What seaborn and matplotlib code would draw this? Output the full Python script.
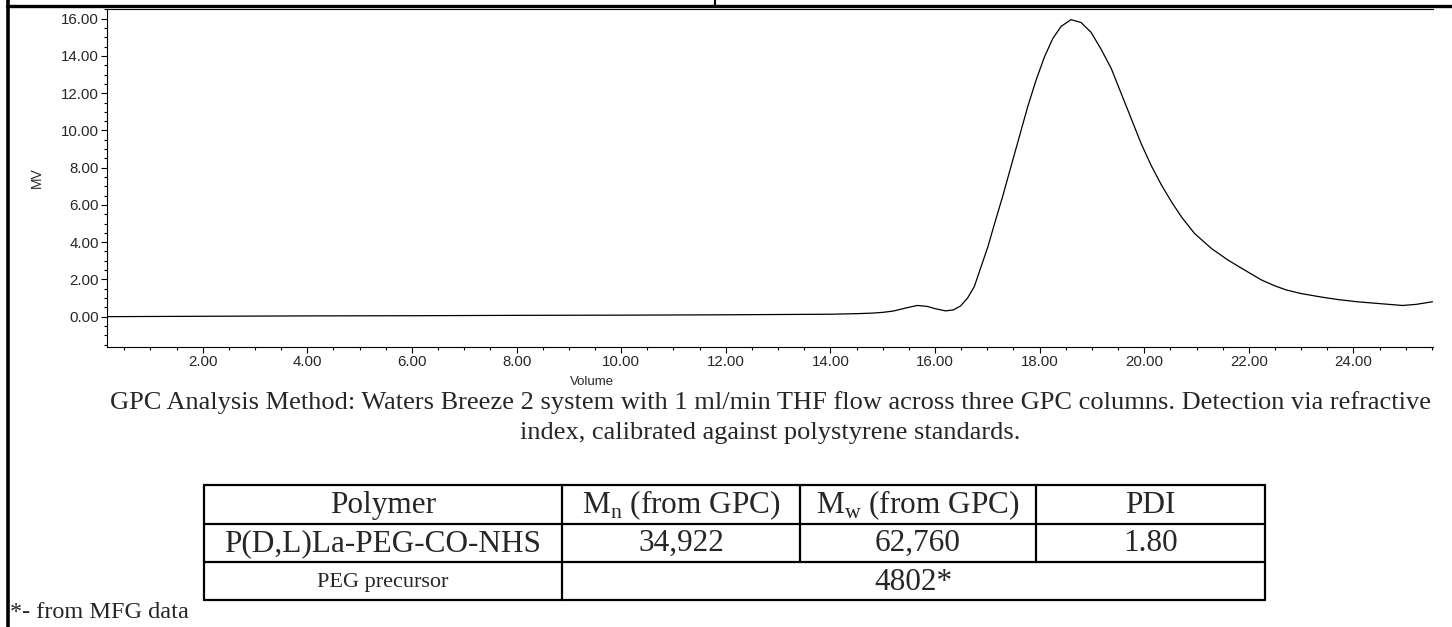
import matplotlib
matplotlib.use("Agg")
import matplotlib.pyplot as plt
from matplotlib.lines import Line2D
from matplotlib.ticker import MultipleLocator, FormatStrFormatter
import seaborn as sns
import pandas as pd

# chromatogram trace
volume = [0.17, 2.0, 4.0, 6.0, 8.0, 10.0, 12.0, 14.0, 14.5, 14.8, 15.0, 15.2,
          15.45, 15.66, 15.85, 16.0, 16.2, 16.35, 16.49, 16.62, 16.75, 16.88,
          17.01, 17.13, 17.29, 17.45, 17.61, 17.77, 17.93, 18.09, 18.25, 18.41,
          18.6, 18.79, 18.98, 19.17, 19.37, 19.56, 19.75, 19.94, 20.13, 20.33,
          20.52, 20.71, 20.96, 21.28, 21.6, 21.92, 22.24, 22.5, 22.72, 23.0,
          23.39, 23.7, 24.07, 24.5, 24.94, 25.2, 25.51]
mv = [0.0, 0.02, 0.04, 0.05, 0.07, 0.08, 0.1, 0.13, 0.16, 0.19, 0.23, 0.3,
      0.47, 0.6, 0.55, 0.43, 0.31, 0.36, 0.58, 0.99, 1.61, 2.68,
      3.75, 4.92, 6.43, 8.04, 9.65, 11.26, 12.69, 13.94, 14.93, 15.59,
      15.95, 15.8, 15.28, 14.39, 13.32, 11.98, 10.64, 9.3, 8.13, 7.06,
      6.17, 5.36, 4.47, 3.67, 3.04, 2.5, 1.97, 1.65, 1.43, 1.24,
      1.05, 0.92, 0.8, 0.7, 0.6, 0.66, 0.8]

caption_1 = ("GPC Analysis Method: Waters Breeze 2 system with 1 ml/min THF flow "
             "across three GPC columns. Detection via refractive")
caption_2 = "index, calibrated against polystyrene standards."
headers = ["Polymer", r"M$_\mathrm{n}$ (from GPC)", r"M$_\mathrm{w}$ (from GPC)", "PDI"]
row1 = ["P(D,L)La-PEG-CO-NHS", "34,922", "62,760", "1.80"]
row2 = ["PEG precursor", "4802*"]
footnote = "*- from MFG data"

df = pd.DataFrame({"Volume": volume, "MV": mv})

sns.set_theme(style="white")
plt.rcParams["mathtext.fontset"] = "custom"
plt.rcParams["mathtext.rm"] = "Liberation Serif"

W, H = 1452, 627
fig = plt.figure(figsize=(W / 100, H / 100), dpi=100)

def fx(px):
    return px / W

def fy(py):
    return 1 - py / H

# page frame lines
fig.add_artist(Line2D([fx(8), fx(8)], [0, 1], color="black", lw=2.6, transform=fig.transFigure))
fig.add_artist(Line2D([fx(7), 1], [fy(5.5), fy(5.5)], color="black", lw=2.4, transform=fig.transFigure))
fig.add_artist(Line2D([fx(715), fx(715)], [fy(5.5), 1], color="black", lw=1.5, transform=fig.transFigure))

ax = fig.add_axes([fx(107), fy(347), fx(1433) - fx(107), fy(8.5) - fy(347)])
sns.lineplot(data=df, x="Volume", y="MV", ax=ax, color="black", lw=0.9, estimator=None, sort=False)
ax.set_xlim(0.17, 25.52)
ax.set_ylim(-1.63, 16.55)

for s in ["left", "bottom", "top"]:
    ax.spines[s].set_visible(True)
    ax.spines[s].set_color("black")
    ax.spines[s].set_linewidth(0.8)
ax.spines["right"].set_visible(False)

ax.xaxis.set_major_locator(MultipleLocator(2))
ax.xaxis.set_minor_locator(MultipleLocator(0.5))
ax.yaxis.set_major_locator(MultipleLocator(2))
ax.yaxis.set_minor_locator(MultipleLocator(0.5))
ax.xaxis.set_major_formatter(FormatStrFormatter("%.2f"))
ax.yaxis.set_major_formatter(FormatStrFormatter("%.2f"))
ax.tick_params(axis="both", which="major", direction="out", length=4.5, width=0.8,
               color="black", labelsize=10.8, pad=1.5, bottom=True, left=True, top=False)
ax.tick_params(axis="both", which="minor", direction="out", length=2.5, width=0.8,
               color="black", bottom=True, left=True, top=False)
for lab in ax.get_xticklabels() + ax.get_yticklabels():
    lab.set_fontfamily("Liberation Sans")

ax.set_xlabel("Volume", fontsize=9.5, family="Liberation Sans", labelpad=1)
ax.xaxis.set_label_coords((592 - 107) / (1433 - 107), -0.085)
ax.set_ylabel("MV", fontsize=10, family="Liberation Sans")
ax.yaxis.set_label_coords(-(107 - 44) / (1433 - 107), 0.5)

# caption
fig.text(fx(770), fy(403), caption_1, ha="center", va="center",
         fontsize=19, family="Liberation Serif")
fig.text(fx(770), fy(433), caption_2, ha="center", va="center",
         fontsize=19, family="Liberation Serif")

# table
cols = [204, 562, 800, 1036, 1265]
rows = [485, 523.5, 562, 600]
tkw = dict(color="black", lw=1.6, transform=fig.transFigure)
for c in cols:
    bottom = rows[-1] if c in (cols[0], cols[1], cols[-1]) else rows[2]
    fig.add_artist(Line2D([fx(c), fx(c)], [fy(rows[0]), fy(bottom)], **tkw))
for r in rows:
    fig.add_artist(Line2D([fx(cols[0]), fx(cols[-1])], [fy(r), fy(r)], **tkw))

tsize = 22.5
for i, txt in enumerate(headers):
    fig.text(fx((cols[i] + cols[i + 1]) / 2), fy((rows[0] + rows[1]) / 2 + 1), txt,
             ha="center", va="center", fontsize=tsize, family="Liberation Serif")
for i, txt in enumerate(row1):
    fig.text(fx((cols[i] + cols[i + 1]) / 2), fy((rows[1] + rows[2]) / 2 + 1), txt,
             ha="center", va="center", fontsize=tsize, family="Liberation Serif")
fig.text(fx((cols[0] + cols[1]) / 2), fy((rows[2] + rows[3]) / 2 + 1), row2[0],
         ha="center", va="center", fontsize=16, family="Liberation Serif")
fig.text(fx((cols[1] + cols[4]) / 2), fy((rows[2] + rows[3]) / 2 + 1), row2[1],
         ha="center", va="center", fontsize=tsize, family="Liberation Serif")

fig.text(fx(10), fy(613), footnote, ha="left", va="center", fontsize=17.5,
         family="Liberation Serif")

fig.savefig("out.png", dpi=100)
